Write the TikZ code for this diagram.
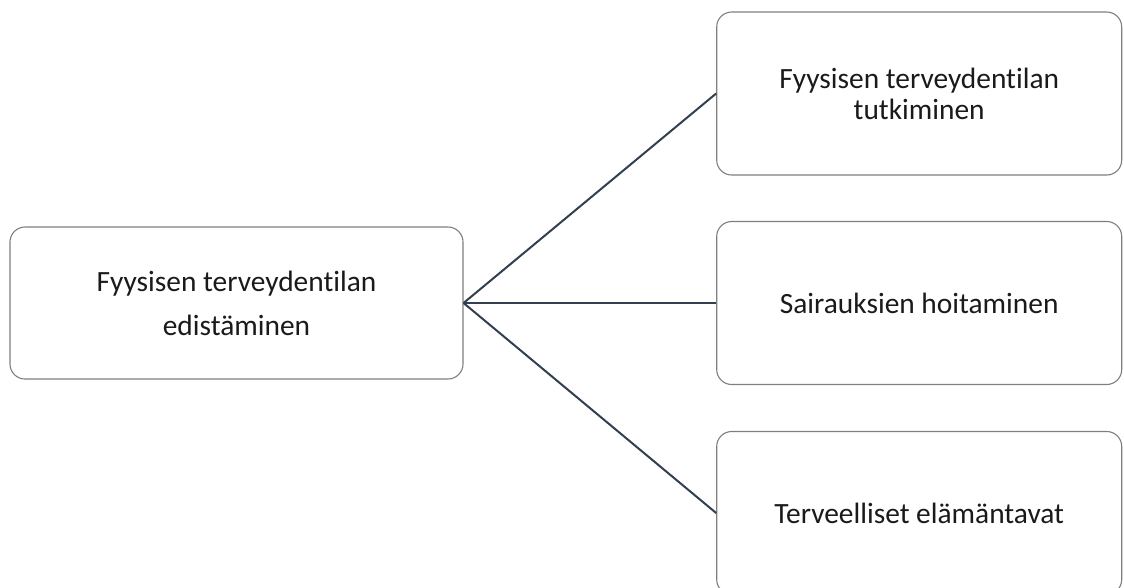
\documentclass[tikz,border=0pt]{standalone}
\usepackage{fontspec}
\setmainfont{Carlito}[Ligatures={NoCommon}]
\definecolor{boxgray}{HTML}{7F7F7F}
\definecolor{linkslate}{HTML}{323F4F}
\definecolor{textblack}{HTML}{1A1A1A}
\begin{document}
\begin{tikzpicture}[x=1pt,y=-1pt,
  card/.style={draw=boxgray, line width=1.1pt, rounded corners=15pt, fill=white,
    align=center, inner sep=0pt, text=textblack},
  leftcard/.style={card, minimum width=453pt, minimum height=152pt,
    font=\fontsize{29.4}{44}\selectfont},
  rightcard/.style={card, minimum width=405pt, minimum height=163pt,
    font=\fontsize{29.4}{31}\selectfont},
  link/.style={draw=linkslate, line width=2pt}]
\useasboundingbox (0,0) rectangle (1124,587);

% main topic on the left
\node[leftcard] (main) at (236.5,303) {Fyysisen terveydentilan\\edistäminen};

% three branches on the right
\node[rightcard] (tutk) at (919.2,93.5) {Fyysisen terveydentilan\\tutkiminen};
\node[rightcard] (hoito) at (919.2,303) {Sairauksien hoitaminen};
\node[rightcard] (tavat) at (919.2,513) {Terveelliset elämäntavat};

% connectors fanning out from the main topic
\draw[link] (main.east) -- (tutk.west);
\draw[link] (main.east) -- (hoito.west);
\draw[link] (main.east) -- (tavat.west);
\end{tikzpicture}
\end{document}
